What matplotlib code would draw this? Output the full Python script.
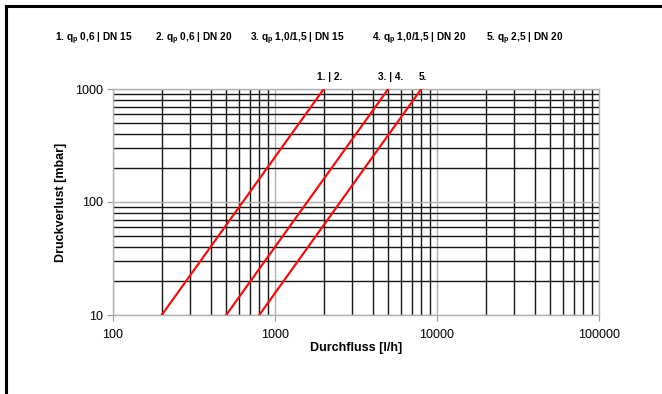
import matplotlib
matplotlib.use("Agg")
import matplotlib.pyplot as plt
from matplotlib.ticker import LogLocator, FixedLocator, NullFormatter
from matplotlib.lines import Line2D

plt.rcParams['font.family'] = ['Liberation Sans', 'DejaVu Sans']
plt.rcParams['mathtext.fontset'] = 'custom'
plt.rcParams['mathtext.rm'] = 'Liberation Sans'
plt.rcParams['mathtext.bf'] = 'Liberation Sans:bold'

# Data: flow [l/h] at 10 mbar and at 1000 mbar for each curve
curve_labels = ["1. | 2.", "3. | 4.", "5."]
flow_start = [200, 500, 800]
flow_end = [2000, 5000, 8000]
dp_start = [10, 10, 10]
dp_end = [1000, 1000, 1000]

legend_items = [
    r"1. q$_\mathbf{p}$ 0,6 | DN 15",
    r"2. q$_\mathbf{p}$ 0,6 | DN 20",
    r"3. q$_\mathbf{p}$ 1,0/1,5 | DN 15",
    r"4. q$_\mathbf{p}$ 1,0/1,5 | DN 20",
    r"5. q$_\mathbf{p}$ 2,5 | DN 20",
]
legend_x = [55, 155, 250, 372, 486]
label_dx = [4.5, 1.5, 1.5]

x_ticks = [100, 1000, 10000, 100000]
x_ticklabels = ["100", "1000", "10000", "100000"]
y_ticks = [10, 100, 1000]
y_ticklabels = ["10", "100", "1000"]

W, H = 662, 394
fig = plt.figure(figsize=(W / 100, H / 100), dpi=100)
ax = fig.add_axes([113 / W, 1 - 315 / H, (599 - 113) / W, (315 - 89) / H])
ax.set_xscale('log')
ax.set_yscale('log')
ax.set_xlim(100, 100000)
ax.set_ylim(10, 1000)

ax.xaxis.set_major_locator(FixedLocator(x_ticks))
ax.yaxis.set_major_locator(FixedLocator(y_ticks))
ax.set_xticklabels(x_ticklabels)
ax.set_yticklabels(y_ticklabels)
ax.xaxis.set_minor_locator(LogLocator(base=10, subs=range(2, 10)))
ax.yaxis.set_minor_locator(LogLocator(base=10, subs=range(2, 10)))
ax.xaxis.set_minor_formatter(NullFormatter())
ax.yaxis.set_minor_formatter(NullFormatter())

ax.grid(which='minor', color='#161616', linewidth=1.0)
ax.grid(which='major', color='#b0b0b0', linewidth=1.0)
ax.set_axisbelow(True)
ax.tick_params(which='minor', length=0)
ax.tick_params(which='major', length=4, color='#999999', labelsize=9, pad=3)
ax.tick_params(axis='x', which='major', pad=6)
for s in ax.spines.values():
    s.set_color('#b0b0b0')
    s.set_linewidth(1.0)

for fs, fe, ds, de in zip(flow_start, flow_end, dp_start, dp_end):
    ax.plot([fs, fe], [ds, de], color='#ee1111', linewidth=1.6, zorder=3)

for lab, fe, de, dx in zip(curve_labels, flow_end, dp_end, label_dx):
    ax.annotate(lab, xy=(fe, de), xytext=(dx, 5), textcoords='offset points',
                ha='center', va='bottom', fontsize=7.3, fontweight='bold')

ax.set_xlabel("Durchfluss [l/h]", fontsize=9, fontweight='bold', labelpad=1)
ax.set_ylabel("Druckverlust [mbar]", fontsize=9, fontweight='bold', labelpad=6)

for txt, x in zip(legend_items, legend_x):
    fig.text(x / W, 1 - 41 / H, txt, fontsize=7.3, fontweight='bold', ha='left', va='baseline')

# outer frame (left and top visible)
fig.add_artist(Line2D([5.5 / W, 5.5 / W], [0, 1 - 5.5 / H], transform=fig.transFigure,
                      color='black', linewidth=2.2))
fig.add_artist(Line2D([5.5 / W, 1], [1 - 5.5 / H, 1 - 5.5 / H], transform=fig.transFigure,
                      color='black', linewidth=2.2))

fig.savefig("out.png", dpi=100)
